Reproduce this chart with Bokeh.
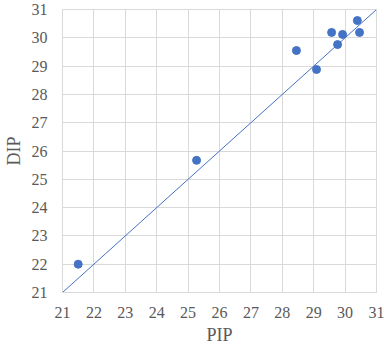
from bokeh.plotting import figure
from bokeh.models import Range1d, FixedTicker
from bokeh.embed import file_html
from bokeh.resources import INLINE

pip = [21.5, 25.27, 28.45, 29.09, 29.57, 29.76, 29.92, 30.39, 30.46]
dip = [22.0, 25.67, 29.55, 28.88, 30.19, 29.76, 30.12, 30.61, 30.19]
line_x = [21, 31]
line_y = [21, 31]
ticks = list(range(21, 32))

FONT = "Liberation Serif"
TXT = "#595959"
GRID = "#d9d9d9"
BLUE = "#4472c4"

p = figure(width=384, height=348, output_backend="svg", toolbar_location=None,
           x_range=Range1d(21, 31), y_range=Range1d(21, 31),
           min_border_left=62, min_border_right=8, min_border_top=9, min_border_bottom=56)
p.outline_line_color = GRID
p.background_fill_color = "white"
p.border_fill_color = "white"

p.line(line_x, line_y, line_color=BLUE, line_width=1)
p.scatter(pip, dip, size=8, fill_color=BLUE, line_color=BLUE)

for ax in (p.xaxis[0], p.yaxis[0]):
    ax.ticker = FixedTicker(ticks=ticks)
    ax.major_tick_in = 0
    ax.major_tick_out = 0
    ax.minor_tick_in = 0
    ax.minor_tick_out = 0
    ax.axis_line_color = GRID
    ax.major_label_text_font = FONT
    ax.major_label_text_font_size = "16px"
    ax.major_label_text_color = TXT
    ax.axis_label_text_font = FONT
    ax.axis_label_text_font_size = "18px"
    ax.axis_label_text_color = TXT
    ax.axis_label_text_font_style = "normal"

p.xaxis.major_label_standoff = 14
p.yaxis.major_label_standoff = 15
p.xaxis.axis_label = "PIP"
p.yaxis.axis_label = "DIP"
p.xaxis.axis_label_standoff = 4
p.yaxis.axis_label_standoff = 5

for g in (p.xgrid[0], p.ygrid[0]):
    g.ticker = FixedTicker(ticks=ticks)
    g.grid_line_color = GRID
    g.grid_line_width = 1

open("out.html", "w").write(file_html(p, INLINE))
